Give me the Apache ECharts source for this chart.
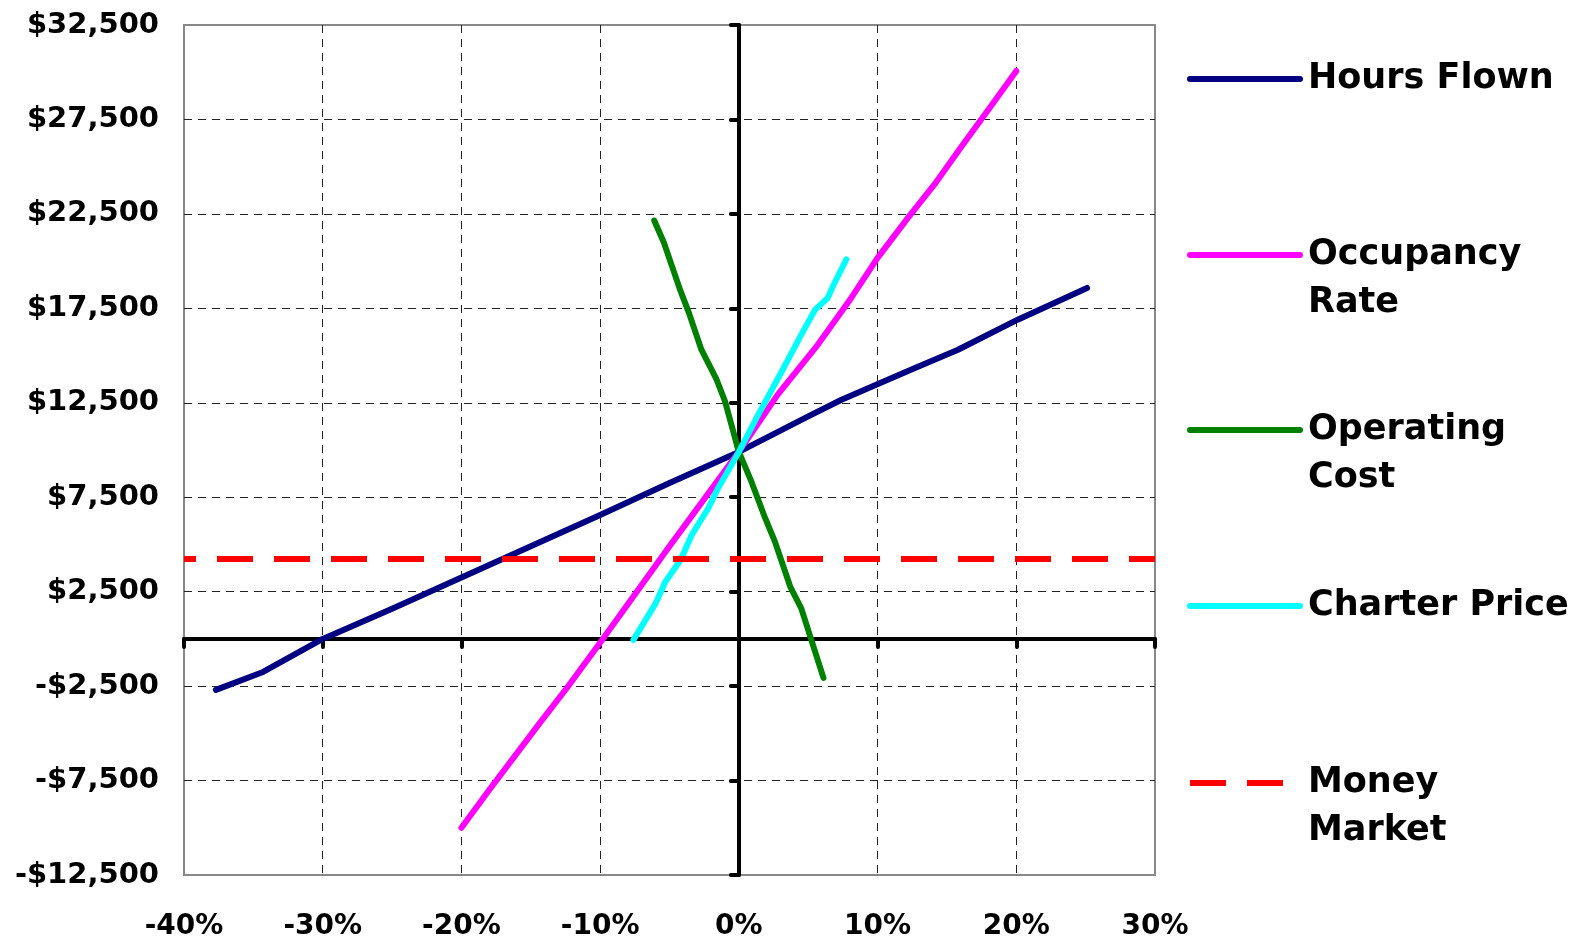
<!DOCTYPE html>
<html>
<head>
<meta charset="utf-8">
<script src="https://cdn.jsdelivr.net/npm/echarts@6/dist/echarts.min.js"></script>
<style>
html,body{margin:0;padding:0;background:#fff;}
#chart{width:1574px;height:941px;}
</style>
</head>
<body>
<div id="chart"></div>
<script>
// Axis ranges / ticks
const xMin = -40, xMax = 30, xInterval = 10;
const yMin = -12500, yMax = 32500, yInterval = 5000;

// Series names
const seriesNames = ['Hours Flown', 'Occupancy Rate', 'Operating Cost', 'Charter Price', 'Money Market'];
const seriesColors = ['#000080', '#FF00FF', '#008000', '#00FFFF', '#FF0000'];

// Hours Flown (x = % change, y = $)
const hoursX = [-37.7, -34.3, -30, -25, -20, -15, -10, -5, 0, 5, 7.4, 12.4, 15.8, 20.1, 25.1];
const hoursY = [-2700, -1750, 0, 1600, 3250, 4900, 6560, 8250, 9900, 11780, 12660, 14250, 15310, 16900, 18580];

// Occupancy Rate
const occX = [-20, -18, -14.4, -12.4, -9.9, -5, 0, 2.8, 5.7, 8.1, 10.0, 12.2, 14.1, 16.0, 18.1, 20.0];
const occY = [-10000, -8000, -4500, -2600, -100, 4900, 9900, 12930, 15580, 18050, 20170, 22300, 24060, 26010, 28130, 30070];

// Operating Cost
const opX = [-6.1, -5.4, -4.7, -4.2, -3.6, -2.7, -1.6, -1.0, 0, 0.9, 1.9, 2.6, 3.7, 4.5, 6.1];
const opY = [22150, 20970, 19470, 18410, 17260, 15310, 13720, 12580, 9900, 8335, 6390, 5150, 2770, 1617, -2060];

// Charter Price
const chX = [-7.6, -6.0, -5.3, -4.2, -3.4, -2.2, -1.5, 0, 1.4, 3.1, 4.5, 5.5, 6.4, 6.9, 7.75];
const chY = [-50, 1880, 3030, 4180, 5500, 6920, 7980, 9900, 11870, 14170, 16110, 17430, 18050, 18850, 20090];

// Money Market (flat)
const mmX = [-40, 30];
const mmY = [4230, 4230];

const seriesX = [hoursX, occX, opX, chX, mmX];
const seriesY = [hoursY, occY, opY, chY, mmY];

// Legend label text (multi-line)
const legendLabels = {
  'Hours Flown': 'Hours Flown',
  'Occupancy Rate': '\nOccupancy\nRate',
  'Operating Cost': '\nOperating\nCost',
  'Charter Price': 'Charter Price',
  'Money Market': '\nMoney\nMarket'
};
const legendTops = [50, 178, 353, 577, 706];

const FONT = '"DejaVu Sans", sans-serif';

function money(v) {
  const s = '$' + Math.abs(v).toLocaleString('en-US');
  return v < 0 ? '-' + s : s;
}

const chart = echarts.init(document.getElementById('chart'));

const DASH = [36, 21];

const series = seriesNames.map((name, i) => ({
  name: name,
  type: 'line',
  xAxisIndex: 0,
  yAxisIndex: 0,
  data: seriesX[i].map((x, j) => [x, seriesY[i][j]]),
  symbol: 'none',
  showSymbol: false,
  smooth: false,
  z: 3 + i,
  lineStyle: {
    color: seriesColors[i],
    width: 6,
    cap: name === 'Money Market' ? 'butt' : 'round',
    join: 'round',
    type: name === 'Money Market' ? DASH : 'solid',
    dashOffset: name === 'Money Market' ? 24 : 0
  },
  itemStyle: { color: seriesColors[i] },
  emphasis: { disabled: true },
  silent: true
}));

const legends = seriesNames.map((name, i) => ({
  data: [name],
  left: 1182,
  top: legendTops[i],
  orient: 'vertical',
  itemWidth: 110,
  itemHeight: 14,
  selectedMode: false,
  itemStyle: { opacity: 0 },
  lineStyle: {
    width: 6,
    cap: name === 'Money Market' ? 'butt' : 'round',
    type: name === 'Money Market' ? DASH : 'solid',
    dashOffset: 0
  },
  formatter: n => legendLabels[n],
  textStyle: {
    fontFamily: FONT,
    fontWeight: 'bold',
    fontSize: 35,
    lineHeight: 48,
    color: '#000',
    padding: [0, 0, 0, 3]
  }
}));

const option = {
  animation: false,
  backgroundColor: '#fff',
  grid: {
    left: 184, top: 25, width: 971, height: 851,
    show: true, borderColor: '#888', borderWidth: 2, backgroundColor: 'transparent'
  },
  legend: legends,
  xAxis: [
    {
      type: 'value', min: xMin, max: xMax, interval: xInterval,
      position: 'bottom',
      axisLine: { show: true, onZero: true, lineStyle: { color: '#000', width: 4 } },
      axisTick: { show: true, length: 8, lineStyle: { color: '#000', width: 4, cap: 'round' } },
      axisLabel: { show: false },
      splitLine: { show: true, showMinLine: false, showMaxLine: false, lineStyle: { color: '#222', width: 1, type: [8, 6] } }
    },
    {
      type: 'value', min: xMin, max: xMax, interval: xInterval,
      position: 'bottom',
      axisLine: { show: false, onZero: false },
      axisTick: { show: false },
      splitLine: { show: false },
      axisLabel: {
        show: true, margin: 38,
        formatter: v => v + '%',
        fontFamily: FONT, fontWeight: 'bold', fontSize: 28, color: '#000'
      }
    }
  ],
  yAxis: [
    {
      type: 'value', min: yMin, max: yMax, interval: yInterval,
      position: 'left',
      axisLine: { show: true, onZero: true, lineStyle: { color: '#000', width: 4 } },
      axisTick: { show: true, length: 8, lineStyle: { color: '#000', width: 4, cap: 'round' } },
      axisLabel: { show: false },
      splitLine: { show: true, showMinLine: false, showMaxLine: false, lineStyle: { color: '#222', width: 1, type: [8, 6] } }
    },
    {
      type: 'value', min: yMin, max: yMax, interval: yInterval,
      position: 'left',
      axisLine: { show: false, onZero: false },
      axisTick: { show: false },
      splitLine: { show: false },
      axisLabel: {
        show: true, margin: 25,
        formatter: v => money(v),
        fontFamily: FONT, fontWeight: 'bold', fontSize: 29, color: '#000'
      }
    }
  ],
  series: series
};

chart.setOption(option);
</script>
</body>
</html>
